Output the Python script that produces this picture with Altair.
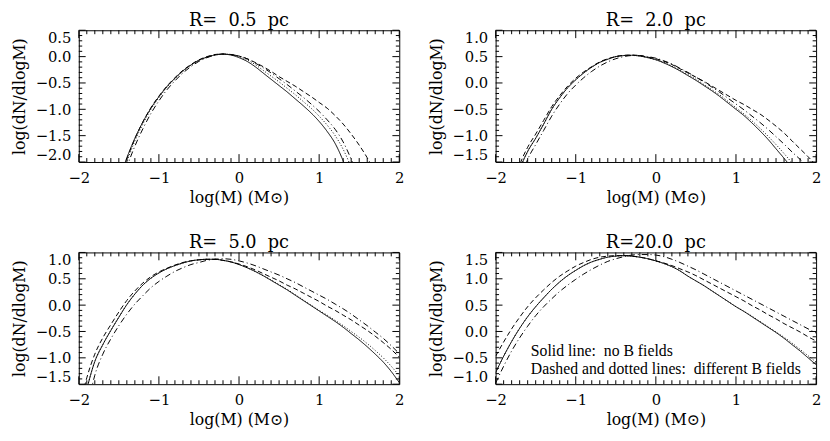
import altair as alt
import pandas as pd

N = None
# sample positions log(M)
x_vals = [-2.0, -1.9, -1.8, -1.7, -1.6, -1.5, -1.4, -1.3, -1.2, -1.1, -1.0,
          -0.9, -0.8, -0.7, -0.6, -0.5, -0.4, -0.3, -0.2, -0.1, 0.0,
          0.1, 0.2, 0.3, 0.4, 0.5, 0.6, 0.7, 0.8, 0.9, 1.0,
          1.1, 1.2, 1.3, 1.4, 1.5, 1.6, 1.7, 1.8, 1.9, 2.0]

# ---- R = 0.5 pc
p1_solid = [N, N, N, N, N, -2.35, -1.92, -1.55, -1.24, -0.98, -0.76,
            -0.57, -0.41, -0.27, -0.16, -0.07, -0.01, 0.03, 0.045, 0.03, -0.02,
            -0.09, -0.19, -0.31, -0.43, -0.55, -0.67, -0.80, -0.93, -1.07, -1.23,
            -1.42, -1.65, -1.98, -2.4, N, N, N, N, N, N]
p1_dash = [N, N, N, N, N, -2.38, -1.94, -1.56, -1.24, -0.97, -0.75,
           -0.56, -0.40, -0.26, -0.15, -0.06, 0.0, 0.04, 0.05, 0.04, 0.01,
           -0.04, -0.11, -0.19, -0.28, -0.38, -0.47, -0.56, -0.66, -0.76, -0.87,
           -0.98, -1.12, -1.28, -1.47, -1.68, -1.92, -2.2, N, N, N]
p1_dot = [N, N, N, N, N, -2.45, -2.0, -1.6, -1.28, -1.0, -0.78,
          -0.58, -0.42, -0.28, -0.16, -0.07, -0.01, 0.03, 0.045, 0.035, 0.0,
          -0.06, -0.15, -0.26, -0.37, -0.48, -0.60, -0.72, -0.85, -0.98, -1.13,
          -1.30, -1.50, -1.76, -2.1, N, N, N, N, N, N]
p1_dashdot = [N, N, N, N, N, -2.6, -2.1, -1.7, -1.37, -1.08, -0.84,
              -0.63, -0.46, -0.31, -0.19, -0.09, -0.02, 0.03, 0.05, 0.04, 0.01,
              -0.04, -0.12, -0.21, -0.31, -0.42, -0.53, -0.65, -0.77, -0.90, -1.04,
              -1.20, -1.38, -1.62, -1.95, -2.35, N, N, N, N, N]

# ---- R = 2.0 pc
p2_solid = [N, N, -2.2, -1.65, -1.3, -1.05, -0.78, -0.5, -0.28, -0.09, 0.06,
            0.19, 0.30, 0.39, 0.45, 0.50, 0.52, 0.525, 0.51, 0.48, 0.44,
            0.38, 0.31, 0.23, 0.14, 0.05, -0.05, -0.15, -0.26, -0.38, -0.50,
            -0.62, -0.76, -0.91, -1.07, -1.25, -1.43, -1.62, -1.82, N, N]
p2_dash = [N, N, -2.1, -1.56, -1.22, -0.97, -0.71, -0.45, -0.24, -0.06, 0.09,
           0.21, 0.31, 0.40, 0.46, 0.50, 0.525, 0.53, 0.52, 0.49, 0.46,
           0.41, 0.35, 0.27, 0.19, 0.11, 0.03, -0.06, -0.15, -0.24, -0.33,
           -0.41, -0.50, -0.59, -0.70, -0.82, -0.95, -1.10, -1.25, -1.40, -1.56]
p2_dot = [N, N, -2.2, -1.65, -1.3, -1.05, -0.78, -0.5, -0.28, -0.09, 0.06,
          0.19, 0.30, 0.39, 0.45, 0.50, 0.52, 0.525, 0.51, 0.48, 0.44,
          0.39, 0.32, 0.24, 0.16, 0.07, -0.03, -0.13, -0.23, -0.35, -0.47,
          -0.59, -0.72, -0.86, -1.01, -1.17, -1.34, -1.52, -1.72, N, N]
p2_dashdot = [N, N, -2.5, -1.9, -1.45, -1.17, -0.9, -0.63, -0.4, -0.2, -0.04,
              0.10, 0.22, 0.32, 0.40, 0.46, 0.50, 0.52, 0.52, 0.50, 0.47,
              0.42, 0.36, 0.28, 0.20, 0.11, 0.02, -0.08, -0.18, -0.29, -0.40,
              -0.51, -0.63, -0.75, -0.88, -1.02, -1.16, -1.31, -1.45, -1.60, N]

# ---- R = 5.0 pc
p3_solid = [-2.3, -1.6, -1.07, -0.75, -0.48, -0.23, 0.01, 0.21, 0.38, 0.51, 0.61,
            0.69, 0.75, 0.80, 0.84, 0.86, 0.87, 0.87, 0.85, 0.82, 0.77,
            0.71, 0.64, 0.56, 0.47, 0.38, 0.29, 0.19, 0.09, -0.01, -0.11,
            -0.21, -0.31, -0.42, -0.54, -0.66, -0.79, -0.93, -1.08, -1.26, -1.47]
p3_dash = [-2.0, -1.38, -0.93, -0.62, -0.37, -0.13, 0.09, 0.27, 0.42, 0.54, 0.63,
           0.70, 0.76, 0.81, 0.84, 0.86, 0.87, 0.87, 0.85, 0.82, 0.78,
           0.73, 0.67, 0.60, 0.53, 0.46, 0.38, 0.31, 0.23, 0.15, 0.07,
           -0.02, -0.10, -0.19, -0.28, -0.38, -0.48, -0.59, -0.71, -0.84, -0.99]
p3_dot = [-2.3, -1.6, -1.07, -0.75, -0.48, -0.23, 0.01, 0.21, 0.38, 0.51, 0.61,
          0.69, 0.75, 0.80, 0.84, 0.86, 0.87, 0.87, 0.85, 0.82, 0.77,
          0.71, 0.64, 0.56, 0.48, 0.39, 0.30, 0.20, 0.10, 0.0, -0.10,
          -0.19, -0.29, -0.39, -0.50, -0.61, -0.73, -0.86, -1.0, -1.16, -1.34]
p3_dashdot = [-2.6, -2.0, -1.33, -0.93, -0.64, -0.39, -0.17, 0.02, 0.18, 0.33, 0.45,
              0.55, 0.64, 0.71, 0.77, 0.81, 0.85, 0.87, 0.88, 0.87, 0.84,
              0.80, 0.75, 0.69, 0.63, 0.57, 0.50, 0.43, 0.35, 0.27, 0.19,
              0.11, 0.02, -0.07, -0.17, -0.28, -0.39, -0.51, -0.63, -0.77, -0.92]

# ---- R = 20.0 pc
p4_solid = [-0.78, -0.47, -0.19, 0.06, 0.28, 0.47, 0.64, 0.80, 0.94, 1.06, 1.16,
            1.25, 1.32, 1.37, 1.41, 1.43, 1.44, 1.43, 1.41, 1.38, 1.34,
            1.29, 1.23, 1.15, 1.05, 0.96, 0.87, 0.77, 0.67, 0.57, 0.47,
            0.38, 0.28, 0.18, 0.08, -0.02, -0.13, -0.25, -0.37, -0.50, -0.63]
p4_dash = [-0.47, -0.2, 0.05, 0.27, 0.47, 0.64, 0.79, 0.93, 1.05, 1.15, 1.24,
           1.31, 1.37, 1.41, 1.43, 1.44, 1.44, 1.43, 1.41, 1.38, 1.34,
           1.30, 1.25, 1.19, 1.13, 1.06, 0.98, 0.90, 0.82, 0.74, 0.66,
           0.58, 0.49, 0.41, 0.32, 0.24, 0.15, 0.07, -0.01, -0.10, -0.18]
p4_dot = [-0.78, -0.47, -0.19, 0.06, 0.28, 0.47, 0.64, 0.80, 0.94, 1.06, 1.16,
          1.25, 1.32, 1.37, 1.41, 1.43, 1.44, 1.43, 1.41, 1.38, 1.34,
          1.29, 1.23, 1.15, 1.05, 0.96, 0.87, 0.77, 0.67, 0.57, 0.47,
          0.38, 0.29, 0.19, 0.09, -0.01, -0.11, -0.22, -0.34, -0.46, -0.58]
p4_dashdot = [-0.98, -0.66, -0.37, -0.12, 0.10, 0.30, 0.47, 0.62, 0.76, 0.88, 0.99,
              1.09, 1.18, 1.26, 1.33, 1.38, 1.42, 1.45, 1.46, 1.46, 1.45,
              1.42, 1.37, 1.31, 1.24, 1.17, 1.09, 1.01, 0.93, 0.85, 0.77,
              0.69, 0.61, 0.53, 0.45, 0.37, 0.29, 0.21, 0.13, 0.05, -0.03]

titles = ["R= \u00a00.5 \u00a0pc", "R= \u00a02.0 \u00a0pc", "R= \u00a05.0 \u00a0pc", "R=20.0 \u00a0pc"]
y_domains = [[-2.0, 0.5], [-1.5, 1.0], [-1.5, 1.0], [-1.0, 1.5]]
y_labels = [[-2.0, -1.5, -1.0, -0.5, 0.0, 0.5],
            [-1.5, -1.0, -0.5, 0.0, 0.5, 1.0],
            [-1.5, -1.0, -0.5, 0.0, 0.5, 1.0],
            [-1.0, -0.5, 0.0, 0.5, 1.0, 1.5]]
x_labels = [-2, -1, 0, 1, 2]
x_minor = [round(-2 + 0.1 * i, 1) for i in range(41)]

series_names = ["solid", "dashed", "dotted", "dashdot"]
panels = [
    [p1_solid, p1_dash, p1_dot, p1_dashdot],
    [p2_solid, p2_dash, p2_dot, p2_dashdot],
    [p3_solid, p3_dash, p3_dot, p3_dashdot],
    [p4_solid, p4_dash, p4_dot, p4_dashdot],
]

note_text = ["Solid line:\u00a0 no B fields", "Dashed and dotted lines:\u00a0 different B fields"]
note_x = [-1.56, -1.56]
note_y = [-0.47, -0.81]

W, H = 326, 134
FONT = "DejaVu Serif"


def make_panel(i):
    rows = []
    for name, vals in zip(series_names, panels[i]):
        for xv, yv in zip(x_vals, vals):
            rows.append({"x": xv, "y": yv, "s": name})
    df = pd.DataFrame(rows)
    yd = y_domains[i]
    xs = alt.Scale(domain=[-2, 2], nice=False, zero=False)
    ys = alt.Scale(domain=yd, nice=False, zero=False)
    xax = alt.Axis(values=x_labels, format="d", title="log(M)  (M\u2299)",
                   labelFlush=False, labelPadding=9, titlePadding=4,
                   labelFont=FONT, labelFontSize=15, labelColor="black",
                   titleFont=FONT, titleFontSize=16, titleFontWeight="normal", titleColor="black",
                   domain=False, ticks=False, grid=False)
    yax = alt.Axis(values=y_labels[i], format=".1f", title="log(dN/dlogM)",
                   labelFlush=True, labelPadding=8, titlePadding=8,
                   labelFont=FONT, labelFontSize=15, labelColor="black",
                   titleFont=FONT, titleFontSize=16, titleFontWeight="normal", titleColor="black",
                   domain=False, ticks=False, grid=False)

    lines = alt.Chart(df).mark_line(clip=True, strokeWidth=1, color="black",
                                    interpolate="monotone").encode(
        x=alt.X("x:Q", scale=xs, axis=xax),
        y=alt.Y("y:Q", scale=ys, axis=yax),
        strokeDash=alt.StrokeDash("s:N", legend=None,
                                  scale=alt.Scale(domain=series_names,
                                                  range=[[1, 0], [5, 3], [1, 2], [6, 3, 1, 3]])),
        detail="s:N",
    )

    ymin, ymax = yd
    yt = [round(ymin + 0.1 * k, 1) for k in range(int(round((ymax - ymin) * 10)) + 1)]
    ymaj = pd.DataFrame({"v": [v for v in yt if abs(v * 2 - round(v * 2)) < 1e-6]})
    ymin_df = pd.DataFrame({"v": [v for v in yt if abs(v * 2 - round(v * 2)) > 1e-6]})
    xmaj = pd.DataFrame({"v": x_labels})
    xmin_df = pd.DataFrame({"v": [v for v in x_minor if abs(v - round(v)) > 1e-6]})

    layers = [lines]
    for d, L in [(ymaj, 7), (ymin_df, 3.5)]:
        layers.append(alt.Chart(d).mark_rule(color="black", strokeWidth=1).encode(
            y=alt.Y("v:Q", scale=ys, axis=yax), x=alt.value(0), x2=alt.value(L)))
        layers.append(alt.Chart(d).mark_rule(color="black", strokeWidth=1).encode(
            y=alt.Y("v:Q", scale=ys, axis=yax), x=alt.value(W), x2=alt.value(W - L)))
    for d, L in [(xmaj, 8), (xmin_df, 4)]:
        layers.append(alt.Chart(d).mark_rule(color="black", strokeWidth=1).encode(
            x=alt.X("v:Q", scale=xs, axis=xax), y=alt.value(H), y2=alt.value(H - L)))
        layers.append(alt.Chart(d).mark_rule(color="black", strokeWidth=1).encode(
            x=alt.X("v:Q", scale=xs, axis=xax), y=alt.value(0), y2=alt.value(L)))

    if i == 3:
        notes = pd.DataFrame({"x": note_x, "y": note_y, "t": note_text})
        layers.append(alt.Chart(notes).mark_text(align="left", baseline="alphabetic",
                                                 font="Liberation Serif", fontSize=16,
                                                 color="black").encode(
            x=alt.X("x:Q", scale=xs, axis=xax), y=alt.Y("y:Q", scale=ys, axis=yax), text="t:N"))

    return alt.layer(*layers).properties(
        width=W, height=H,
        title=alt.TitleParams(titles[i], font=FONT, fontSize=18, fontWeight="normal",
                              offset=0, anchor="middle", color="black"))


p = [make_panel(i) for i in range(4)]
row1 = alt.hconcat(p[0], p[1], spacing=23)
row2 = alt.hconcat(p[2], p[3], spacing=23)
chart = alt.vconcat(row1, row2, spacing=28).properties(
    padding={"left": 3, "top": 0, "right": 0, "bottom": 0},
    background="white",
).configure_view(stroke="black", strokeWidth=1)

chart.save("out.html", embed_options={"renderer": "svg", "actions": False})
